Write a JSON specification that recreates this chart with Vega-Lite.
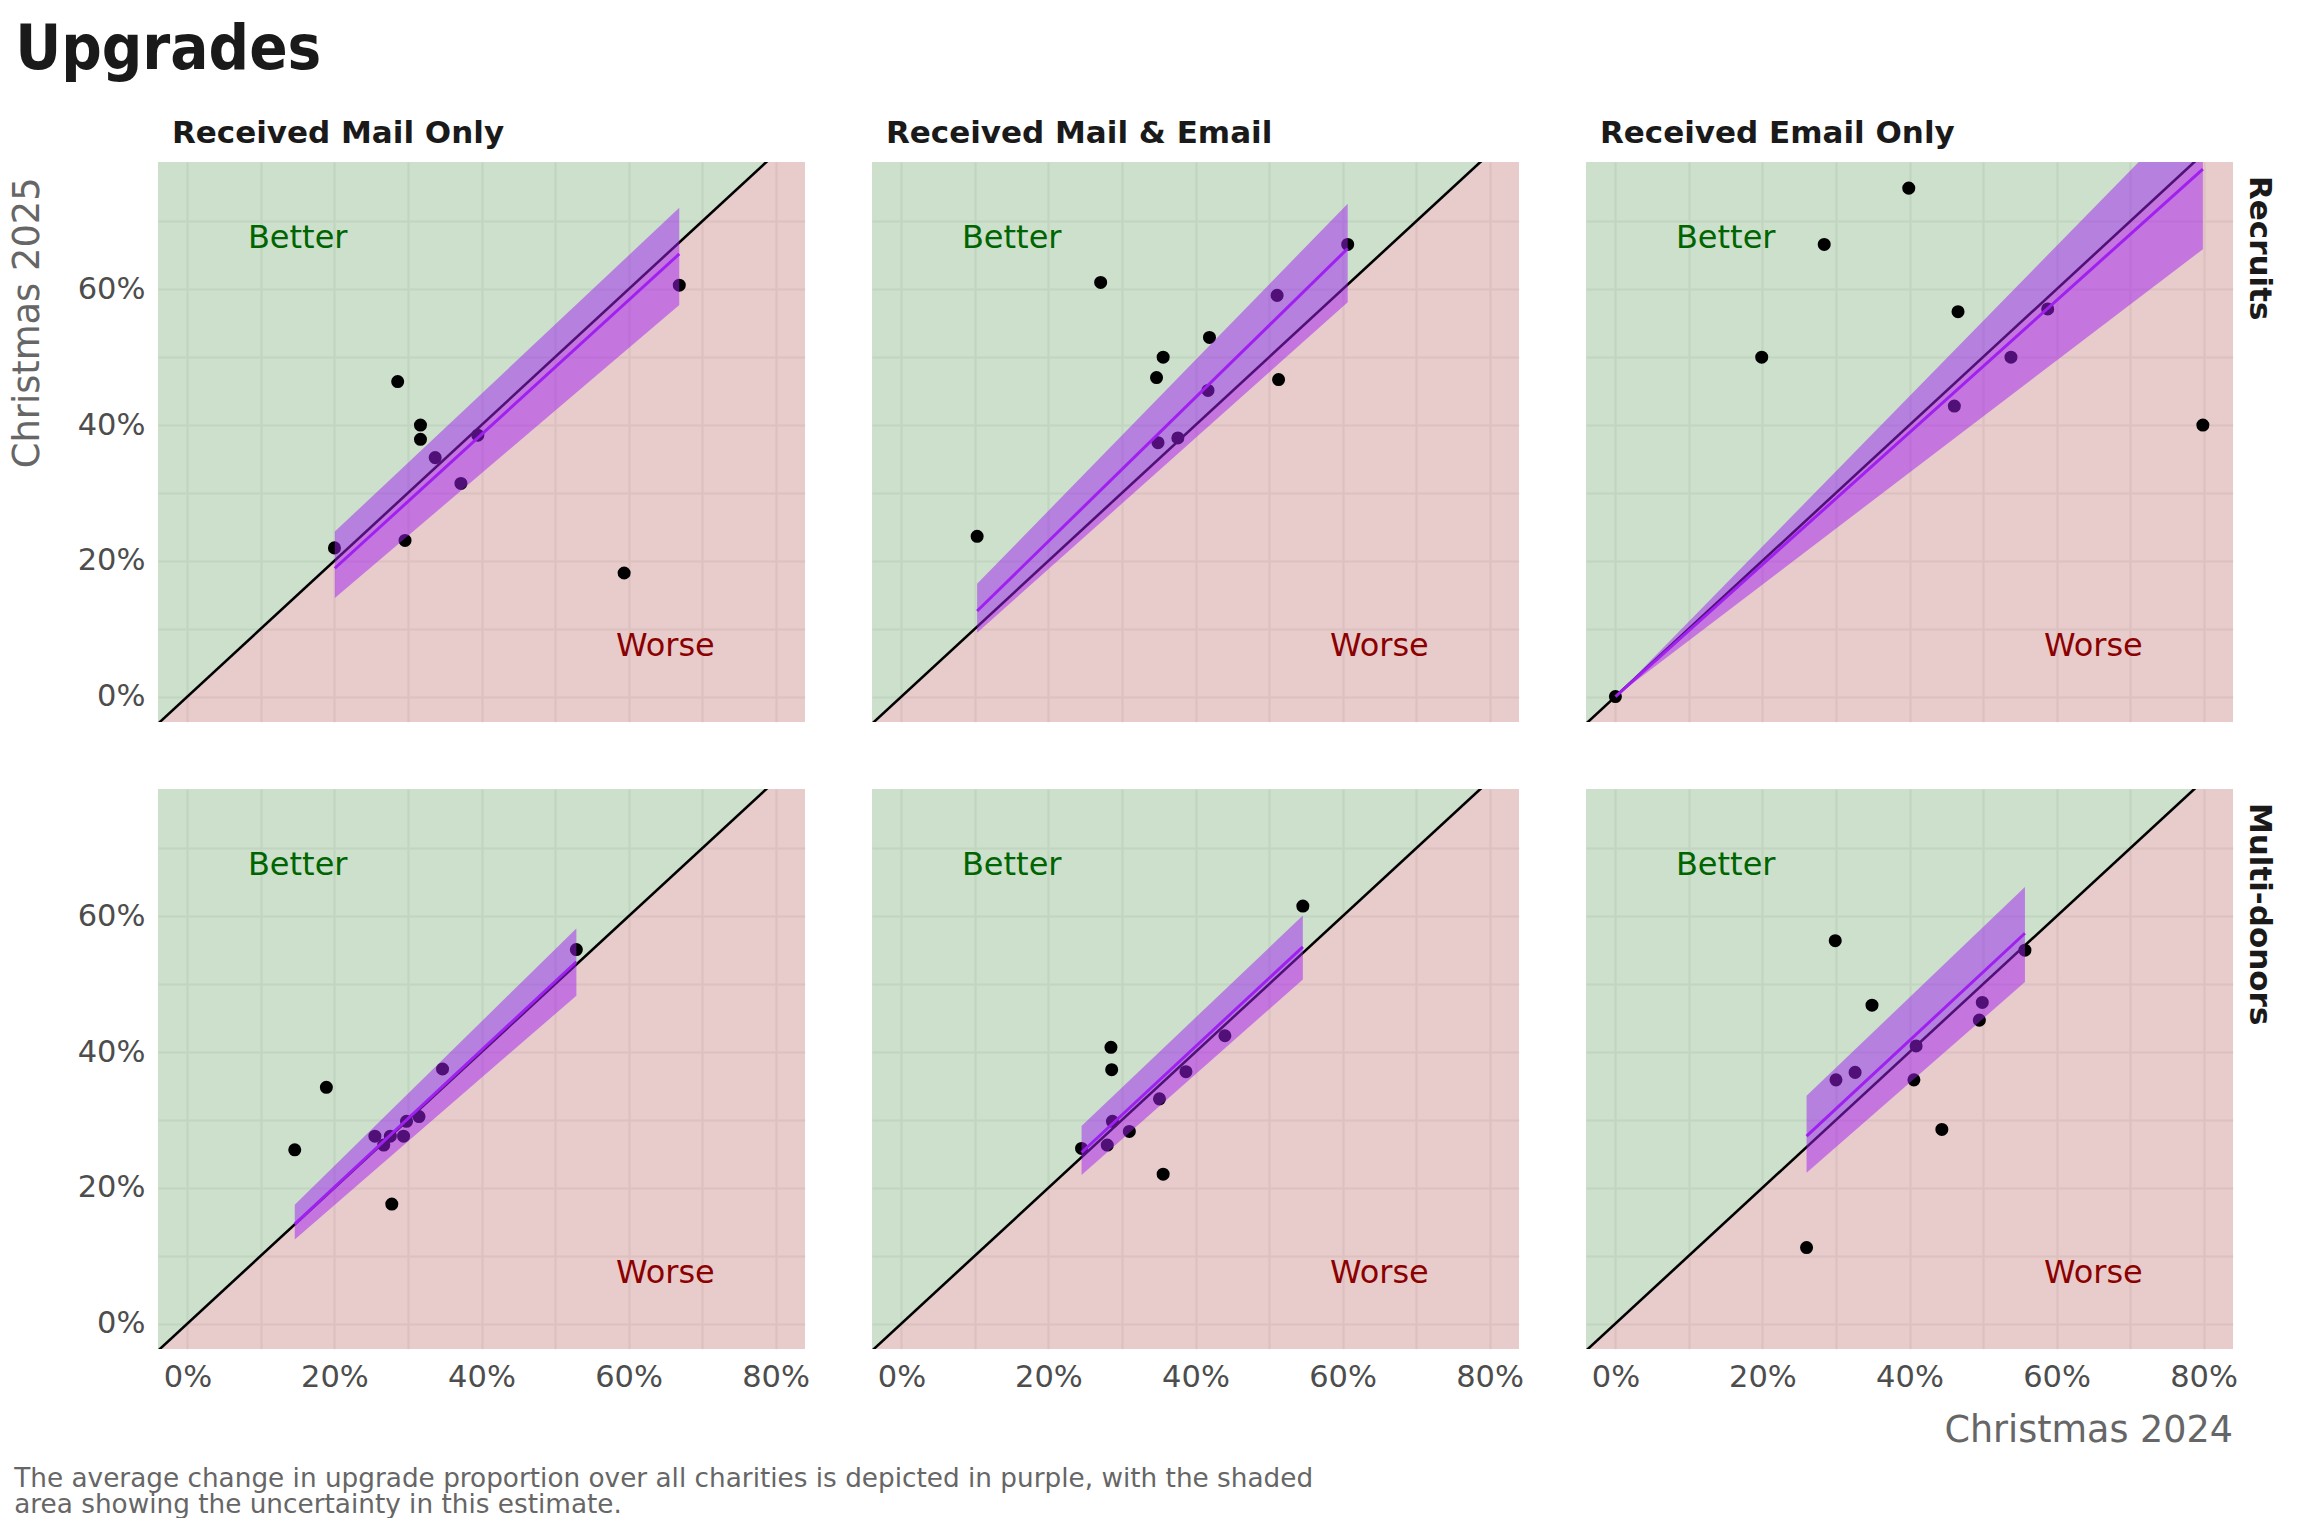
{
  "$schema": "https://vega.github.io/schema/vega-lite/v6.json",
  "background": "white",
  "padding": {"left": 10, "top": 19, "right": 0, "bottom": 0},
  "title": {"text": "Upgrades", "anchor": "start", "frame": "bounds", "font": "DejaVu Sans Condensed, DejaVu Sans, sans-serif", "fontSize": 63, "fontWeight": "bold", "color": "#1A1A1A", "offset": 36, "dx": 5},
  "config": {
    "font": "DejaVu Sans",
    "view": {"stroke": null},
    "axis": {"labelFont": "DejaVu Sans", "labelFontSize": 30.5, "labelColor": "#4D4D4D", "ticks": false, "domain": false, "gridColor": "#F2F2F2", "gridWidth": 2.2, "labelPadding": 13}
  },
  "vconcat": [
    {
      "title": {"text": ["The average change in upgrade proportion over all charities is depicted in purple, with the shaded", "area showing the uncertainty in this estimate."], "orient": "bottom", "anchor": "start", "frame": "bounds", "font": "DejaVu Sans", "fontSize": 26.3, "fontWeight": "normal", "color": "#666666", "lineHeight": 26, "offset": 16, "dx": 4},
      "data": {"values": [
        {"s": "Recruits", "c": "Received Mail Only", "k": "bg", "x": -0.04},
        {"s": "Recruits", "c": "Received Mail Only", "k": "bg", "x": 0.84},
        {"s": "Recruits", "c": "Received Mail & Email", "k": "bg", "x": -0.04},
        {"s": "Recruits", "c": "Received Mail & Email", "k": "bg", "x": 0.84},
        {"s": "Recruits", "c": "Received Email Only", "k": "bg", "x": -0.04},
        {"s": "Recruits", "c": "Received Email Only", "k": "bg", "x": 0.84},
        {"s": "Multi-donors", "c": "Received Mail Only", "k": "bg", "x": -0.04},
        {"s": "Multi-donors", "c": "Received Mail Only", "k": "bg", "x": 0.84},
        {"s": "Multi-donors", "c": "Received Mail & Email", "k": "bg", "x": -0.04},
        {"s": "Multi-donors", "c": "Received Mail & Email", "k": "bg", "x": 0.84},
        {"s": "Multi-donors", "c": "Received Email Only", "k": "bg", "x": -0.04},
        {"s": "Multi-donors", "c": "Received Email Only", "k": "bg", "x": 0.84},

        {"s": "Recruits", "c": "Received Mail Only", "k": "lab", "x": 0.15, "y": 0.675, "lab": "Better"},
        {"s": "Recruits", "c": "Received Mail Only", "k": "lab", "x": 0.65, "y": 0.075, "lab": "Worse"},
        {"s": "Recruits", "c": "Received Mail & Email", "k": "lab", "x": 0.15, "y": 0.675, "lab": "Better"},
        {"s": "Recruits", "c": "Received Mail & Email", "k": "lab", "x": 0.65, "y": 0.075, "lab": "Worse"},
        {"s": "Recruits", "c": "Received Email Only", "k": "lab", "x": 0.15, "y": 0.675, "lab": "Better"},
        {"s": "Recruits", "c": "Received Email Only", "k": "lab", "x": 0.65, "y": 0.075, "lab": "Worse"},
        {"s": "Multi-donors", "c": "Received Mail Only", "k": "lab", "x": 0.15, "y": 0.675, "lab": "Better"},
        {"s": "Multi-donors", "c": "Received Mail Only", "k": "lab", "x": 0.65, "y": 0.075, "lab": "Worse"},
        {"s": "Multi-donors", "c": "Received Mail & Email", "k": "lab", "x": 0.15, "y": 0.675, "lab": "Better"},
        {"s": "Multi-donors", "c": "Received Mail & Email", "k": "lab", "x": 0.65, "y": 0.075, "lab": "Worse"},
        {"s": "Multi-donors", "c": "Received Email Only", "k": "lab", "x": 0.15, "y": 0.675, "lab": "Better"},
        {"s": "Multi-donors", "c": "Received Email Only", "k": "lab", "x": 0.65, "y": 0.075, "lab": "Worse"},

        {"s": "Recruits", "c": "Received Mail Only", "k": "fit", "x": 0.2005, "y": 0.189, "lo": 0.145, "hi": 0.243},
        {"s": "Recruits", "c": "Received Mail Only", "k": "fit", "x": 0.669, "y": 0.652, "lo": 0.577, "hi": 0.720},
        {"s": "Recruits", "c": "Received Mail & Email", "k": "fit", "x": 0.103, "y": 0.126, "lo": 0.094, "hi": 0.166},
        {"s": "Recruits", "c": "Received Mail & Email", "k": "fit", "x": 0.607, "y": 0.660, "lo": 0.581, "hi": 0.726},
        {"s": "Recruits", "c": "Received Email Only", "k": "fit", "x": 0.0, "y": 0.0, "lo": 0.0, "hi": 0.0},
        {"s": "Recruits", "c": "Received Email Only", "k": "fit", "x": 0.799, "y": 0.777, "lo": 0.659, "hi": 0.884},
        {"s": "Multi-donors", "c": "Received Mail Only", "k": "fit", "x": 0.146, "y": 0.1465, "lo": 0.124, "hi": 0.175},
        {"s": "Multi-donors", "c": "Received Mail Only", "k": "fit", "x": 0.529, "y": 0.533, "lo": 0.483, "hi": 0.582},
        {"s": "Multi-donors", "c": "Received Mail & Email", "k": "fit", "x": 0.245, "y": 0.252, "lo": 0.219, "hi": 0.291},
        {"s": "Multi-donors", "c": "Received Mail & Email", "k": "fit", "x": 0.546, "y": 0.555, "lo": 0.507, "hi": 0.601},
        {"s": "Multi-donors", "c": "Received Email Only", "k": "fit", "x": 0.260, "y": 0.276, "lo": 0.222, "hi": 0.3355},
        {"s": "Multi-donors", "c": "Received Email Only", "k": "fit", "x": 0.557, "y": 0.575, "lo": 0.503, "hi": 0.643},

        {"s": "Recruits", "c": "Received Mail Only", "k": "pt", "x": 0.200, "y": 0.219},
        {"s": "Recruits", "c": "Received Mail Only", "k": "pt", "x": 0.286, "y": 0.464},
        {"s": "Recruits", "c": "Received Mail Only", "k": "pt", "x": 0.296, "y": 0.230},
        {"s": "Recruits", "c": "Received Mail Only", "k": "pt", "x": 0.317, "y": 0.400},
        {"s": "Recruits", "c": "Received Mail Only", "k": "pt", "x": 0.317, "y": 0.379},
        {"s": "Recruits", "c": "Received Mail Only", "k": "pt", "x": 0.337, "y": 0.352},
        {"s": "Recruits", "c": "Received Mail Only", "k": "pt", "x": 0.372, "y": 0.314},
        {"s": "Recruits", "c": "Received Mail Only", "k": "pt", "x": 0.395, "y": 0.385},
        {"s": "Recruits", "c": "Received Mail Only", "k": "pt", "x": 0.594, "y": 0.182},
        {"s": "Recruits", "c": "Received Mail Only", "k": "pt", "x": 0.669, "y": 0.606},

        {"s": "Recruits", "c": "Received Mail & Email", "k": "pt", "x": 0.103, "y": 0.236},
        {"s": "Recruits", "c": "Received Mail & Email", "k": "pt", "x": 0.271, "y": 0.610},
        {"s": "Recruits", "c": "Received Mail & Email", "k": "pt", "x": 0.347, "y": 0.470},
        {"s": "Recruits", "c": "Received Mail & Email", "k": "pt", "x": 0.356, "y": 0.500},
        {"s": "Recruits", "c": "Received Mail & Email", "k": "pt", "x": 0.349, "y": 0.374},
        {"s": "Recruits", "c": "Received Mail & Email", "k": "pt", "x": 0.376, "y": 0.381},
        {"s": "Recruits", "c": "Received Mail & Email", "k": "pt", "x": 0.419, "y": 0.529},
        {"s": "Recruits", "c": "Received Mail & Email", "k": "pt", "x": 0.417, "y": 0.451},
        {"s": "Recruits", "c": "Received Mail & Email", "k": "pt", "x": 0.511, "y": 0.591},
        {"s": "Recruits", "c": "Received Mail & Email", "k": "pt", "x": 0.513, "y": 0.467},
        {"s": "Recruits", "c": "Received Mail & Email", "k": "pt", "x": 0.607, "y": 0.666},

        {"s": "Recruits", "c": "Received Email Only", "k": "pt", "x": 0.0, "y": 0.0},
        {"s": "Recruits", "c": "Received Email Only", "k": "pt", "x": 0.199, "y": 0.500},
        {"s": "Recruits", "c": "Received Email Only", "k": "pt", "x": 0.284, "y": 0.666},
        {"s": "Recruits", "c": "Received Email Only", "k": "pt", "x": 0.399, "y": 0.749},
        {"s": "Recruits", "c": "Received Email Only", "k": "pt", "x": 0.466, "y": 0.567},
        {"s": "Recruits", "c": "Received Email Only", "k": "pt", "x": 0.461, "y": 0.428},
        {"s": "Recruits", "c": "Received Email Only", "k": "pt", "x": 0.538, "y": 0.500},
        {"s": "Recruits", "c": "Received Email Only", "k": "pt", "x": 0.588, "y": 0.571},
        {"s": "Recruits", "c": "Received Email Only", "k": "pt", "x": 0.799, "y": 0.400},

        {"s": "Multi-donors", "c": "Received Mail Only", "k": "pt", "x": 0.146, "y": 0.256},
        {"s": "Multi-donors", "c": "Received Mail Only", "k": "pt", "x": 0.189, "y": 0.348},
        {"s": "Multi-donors", "c": "Received Mail Only", "k": "pt", "x": 0.255, "y": 0.276},
        {"s": "Multi-donors", "c": "Received Mail Only", "k": "pt", "x": 0.267, "y": 0.263},
        {"s": "Multi-donors", "c": "Received Mail Only", "k": "pt", "x": 0.276, "y": 0.276},
        {"s": "Multi-donors", "c": "Received Mail Only", "k": "pt", "x": 0.278, "y": 0.176},
        {"s": "Multi-donors", "c": "Received Mail Only", "k": "pt", "x": 0.294, "y": 0.276},
        {"s": "Multi-donors", "c": "Received Mail Only", "k": "pt", "x": 0.298, "y": 0.298},
        {"s": "Multi-donors", "c": "Received Mail Only", "k": "pt", "x": 0.315, "y": 0.305},
        {"s": "Multi-donors", "c": "Received Mail Only", "k": "pt", "x": 0.347, "y": 0.375},
        {"s": "Multi-donors", "c": "Received Mail Only", "k": "pt", "x": 0.529, "y": 0.551},

        {"s": "Multi-donors", "c": "Received Mail & Email", "k": "pt", "x": 0.245, "y": 0.258},
        {"s": "Multi-donors", "c": "Received Mail & Email", "k": "pt", "x": 0.285, "y": 0.407},
        {"s": "Multi-donors", "c": "Received Mail & Email", "k": "pt", "x": 0.286, "y": 0.374},
        {"s": "Multi-donors", "c": "Received Mail & Email", "k": "pt", "x": 0.280, "y": 0.263},
        {"s": "Multi-donors", "c": "Received Mail & Email", "k": "pt", "x": 0.287, "y": 0.298},
        {"s": "Multi-donors", "c": "Received Mail & Email", "k": "pt", "x": 0.310, "y": 0.283},
        {"s": "Multi-donors", "c": "Received Mail & Email", "k": "pt", "x": 0.351, "y": 0.331},
        {"s": "Multi-donors", "c": "Received Mail & Email", "k": "pt", "x": 0.356, "y": 0.220},
        {"s": "Multi-donors", "c": "Received Mail & Email", "k": "pt", "x": 0.387, "y": 0.371},
        {"s": "Multi-donors", "c": "Received Mail & Email", "k": "pt", "x": 0.440, "y": 0.424},
        {"s": "Multi-donors", "c": "Received Mail & Email", "k": "pt", "x": 0.546, "y": 0.615},

        {"s": "Multi-donors", "c": "Received Email Only", "k": "pt", "x": 0.299, "y": 0.564},
        {"s": "Multi-donors", "c": "Received Email Only", "k": "pt", "x": 0.349, "y": 0.469},
        {"s": "Multi-donors", "c": "Received Email Only", "k": "pt", "x": 0.300, "y": 0.359},
        {"s": "Multi-donors", "c": "Received Email Only", "k": "pt", "x": 0.326, "y": 0.370},
        {"s": "Multi-donors", "c": "Received Email Only", "k": "pt", "x": 0.409, "y": 0.409},
        {"s": "Multi-donors", "c": "Received Email Only", "k": "pt", "x": 0.406, "y": 0.359},
        {"s": "Multi-donors", "c": "Received Email Only", "k": "pt", "x": 0.444, "y": 0.286},
        {"s": "Multi-donors", "c": "Received Email Only", "k": "pt", "x": 0.260, "y": 0.112},
        {"s": "Multi-donors", "c": "Received Email Only", "k": "pt", "x": 0.495, "y": 0.447},
        {"s": "Multi-donors", "c": "Received Email Only", "k": "pt", "x": 0.499, "y": 0.473},
        {"s": "Multi-donors", "c": "Received Email Only", "k": "pt", "x": 0.557, "y": 0.550}
      ]},
      "facet": {
        "row": {"field": "s", "type": "nominal", "sort": ["Recruits", "Multi-donors"], "title": "Christmas 2025\u00a0\u200a\u200b",
          "header": {"labelOrient": "right", "labelAngle": 90, "labelAnchor": "start", "labelFont": "DejaVu Sans", "labelFontSize": 31, "labelFontWeight": "bold", "labelColor": "#1A1A1A", "labelPadding": 10, "labelExpr": "'\u200b\u00a0\u200a' + datum.value",
            "titleOrient": "left", "titleAnchor": "end", "titleFont": "DejaVu Sans", "titleFontSize": 36.8, "titleFontWeight": "normal", "titleColor": "#666666", "titlePadding": 20}},
        "column": {"field": "c", "type": "nominal", "sort": ["Received Mail Only", "Received Mail & Email", "Received Email Only"], "title": "Christmas 2024",
          "header": {"labelOrient": "top", "labelAnchor": "start", "labelFont": "DejaVu Sans", "labelFontSize": 31, "labelFontWeight": "bold", "labelColor": "#1A1A1A", "labelPadding": 12, "labelExpr": "'\u200b\u00a0\u200a' + datum.value",
            "titleOrient": "bottom", "titleAnchor": "end", "titleFont": "DejaVu Sans", "titleFontSize": 36.5, "titleFontWeight": "normal", "titleColor": "#666666", "titlePadding": 10}}
      },
      "spacing": {"row": 67, "column": 67},
      "spec": {
        "width": 647,
        "height": 560,
        "layer": [
          {
            "transform": [{"filter": "datum.k === 'bg'"}],
            "mark": {"type": "area", "clip": true, "color": "#006400", "opacity": 0.2},
            "encoding": {
              "x": {"field": "x", "type": "quantitative", "scale": {"domain": [-0.04, 0.84], "nice": false, "zero": false},
                "axis": {"title": null, "values": [0, 0.1, 0.2, 0.3, 0.4, 0.5, 0.6, 0.7, 0.8], "labelExpr": "round(datum.value * 100) % 20 === 0 ? format(datum.value, '.0%') : ''"}},
              "y": {"field": "x", "type": "quantitative", "scale": {"domain": [-0.0375, 0.7875], "nice": false, "zero": false},
                "axis": {"title": null, "values": [0, 0.1, 0.2, 0.3, 0.4, 0.5, 0.6, 0.7], "labelExpr": "round(datum.value * 100) % 20 === 0 ? format(datum.value, '.0%') : ''"}},
              "y2": {"datum": 0.7875}
            }
          },
          {
            "transform": [{"filter": "datum.k === 'bg'"}],
            "mark": {"type": "area", "clip": true, "color": "#8B0000", "opacity": 0.2},
            "encoding": {
              "x": {"field": "x", "type": "quantitative", "scale": {"domain": [-0.04, 0.84], "nice": false, "zero": false}},
              "y": {"field": "x", "type": "quantitative", "scale": {"domain": [-0.0375, 0.7875], "nice": false, "zero": false}},
              "y2": {"datum": -0.0375}
            }
          },
          {
            "transform": [{"filter": "datum.k === 'bg'"}],
            "mark": {"type": "line", "clip": true, "color": "black", "strokeWidth": 2.6},
            "encoding": {
              "x": {"field": "x", "type": "quantitative", "scale": {"domain": [-0.04, 0.84], "nice": false, "zero": false}},
              "y": {"field": "x", "type": "quantitative", "scale": {"domain": [-0.0375, 0.7875], "nice": false, "zero": false}}
            }
          },
          {
            "transform": [{"filter": "datum.k === 'pt'"}],
            "mark": {"type": "circle", "clip": true, "color": "black", "opacity": 1, "size": 170},
            "encoding": {
              "x": {"field": "x", "type": "quantitative", "scale": {"domain": [-0.04, 0.84], "nice": false, "zero": false}},
              "y": {"field": "y", "type": "quantitative", "scale": {"domain": [-0.0375, 0.7875], "nice": false, "zero": false}}
            }
          },
          {
            "transform": [{"filter": "datum.k === 'fit'"}],
            "mark": {"type": "area", "clip": true, "color": "#A020F0", "opacity": 0.5},
            "encoding": {
              "x": {"field": "x", "type": "quantitative", "scale": {"domain": [-0.04, 0.84], "nice": false, "zero": false}},
              "y": {"field": "lo", "type": "quantitative", "scale": {"domain": [-0.0375, 0.7875], "nice": false, "zero": false}},
              "y2": {"field": "hi"}
            }
          },
          {
            "transform": [{"filter": "datum.k === 'fit'"}],
            "mark": {"type": "line", "clip": true, "color": "#A020F0", "strokeWidth": 3},
            "encoding": {
              "x": {"field": "x", "type": "quantitative", "scale": {"domain": [-0.04, 0.84], "nice": false, "zero": false}},
              "y": {"field": "y", "type": "quantitative", "scale": {"domain": [-0.0375, 0.7875], "nice": false, "zero": false}}
            }
          },
          {
            "transform": [{"filter": "datum.k === 'lab'"}],
            "mark": {"type": "text", "clip": true, "font": "DejaVu Sans", "fontSize": 32, "align": "center", "baseline": "middle"},
            "encoding": {
              "x": {"field": "x", "type": "quantitative", "scale": {"domain": [-0.04, 0.84], "nice": false, "zero": false}},
              "y": {"field": "y", "type": "quantitative", "scale": {"domain": [-0.0375, 0.7875], "nice": false, "zero": false}},
              "text": {"field": "lab"},
              "color": {"field": "lab", "type": "nominal", "scale": {"domain": ["Better", "Worse"], "range": ["#006400", "#8B0000"]}, "legend": null}
            }
          }
        ]
      }
    }
  ]
}
